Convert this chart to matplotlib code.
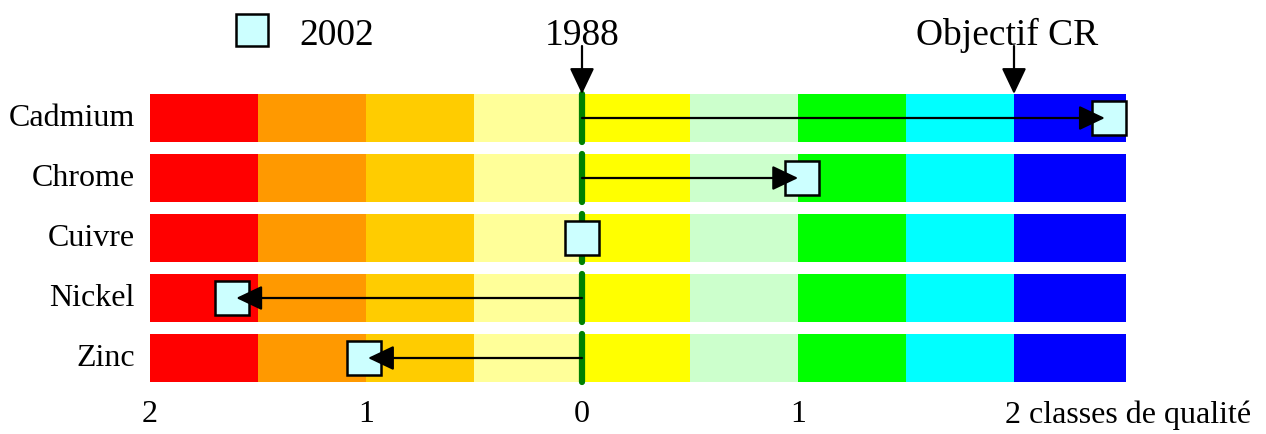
import matplotlib.pyplot as plt

# --- DATA ---
metals = ["Cadmium", "Chrome", "Cuivre", "Nickel", "Zinc"]
gain_2002 = [2.44, 1.02, 0.0, -1.62, -1.01]   # évolution en classes de qualité depuis 1988
class_edges = [-2.0, -1.5, -1.0, -0.5, 0.0, 0.5, 1.0, 1.5, 2.0, 2.52]
class_colors = ["#FF0000", "#FF9900", "#FFCC00", "#FFFF99", "#FFFF00",
                "#CCFFCC", "#00FF00", "#00FFFF", "#0000FF"]
tick_pos = [-2, -1, 0, 1, 2]
tick_labels = ["2", "1", "0", "1", "2 classes de qualité"]
objectif_cr = 2.0

plt.rcParams['font.family'] = ['Liberation Serif', 'DejaVu Serif']

fig = plt.figure(figsize=(12.66, 4.35), dpi=100)
ax = fig.add_axes([0, 0, 1, 1])
ax.set_xlim(-582 / 216, (1266 - 582) / 216)
ax.set_ylim((435 - 119) / 60, -119 / 60)
ax.axis("off")

rows = range(len(metals))
bar_h = 0.8

# bandes de couleur
for i in rows:
    for k in range(len(class_colors)):
        ax.barh(i, class_edges[k + 1] - class_edges[k], left=class_edges[k],
                height=bar_h, color=class_colors[k], linewidth=0, zorder=1)
    # ligne verte 1988
    ax.plot([0, 0], [i - bar_h / 2, i + bar_h / 2], color="#008000", lw=4.5,
            solid_capstyle="round", zorder=2)

arrow_kw = dict(arrowstyle="-|>,head_length=0.8,head_width=0.38",
                color="black", lw=1.6, mutation_scale=20)

# marqueurs 2002 + flèches
for i, v in enumerate(gain_2002):
    ax.plot(v, i, marker="s", markersize=24, markerfacecolor="#CCFFFF",
            markeredgecolor="black", markeredgewidth=1.8, zorder=3)
    if abs(v) > 0.1:
        ax.annotate("", xy=(v, i), xytext=(0, i),
                    arrowprops=dict(shrinkA=0, shrinkB=3, **arrow_kw), zorder=4)

# libellés des métaux
for i, name in enumerate(metals):
    ax.text(-2.07, i, name, ha="right", va="center", fontsize=23)

# axe du bas
for p, lab in zip(tick_pos, tick_labels):
    if p == tick_pos[-1]:
        ax.text(p - 0.04, 4.93, lab, ha="left", va="center", fontsize=23)
    else:
        ax.text(p, 4.93, lab, ha="center", va="center", fontsize=23)

# en-tête : légende, 1988, objectif
ax.plot(-1.528, -1.47, marker="s", markersize=23, markerfacecolor="#CCFFFF",
        markeredgecolor="black", markeredgewidth=1.8, clip_on=False)
ax.text(-1.31, -1.39, "2002", ha="left", va="center", fontsize=27)

ax.text(0, -1.39, "1988", ha="center", va="center", fontsize=27)
ax.annotate("", xy=(0, -0.4), xytext=(0, -1.2),
            arrowprops=dict(shrinkA=0, shrinkB=0, **arrow_kw))

ax.text(objectif_cr - 0.03, -1.39, "Objectif CR", ha="center", va="center", fontsize=27)
ax.annotate("", xy=(objectif_cr, -0.4), xytext=(objectif_cr, -1.2),
            arrowprops=dict(shrinkA=0, shrinkB=0, **arrow_kw))

fig.savefig("out.png", dpi=100)
